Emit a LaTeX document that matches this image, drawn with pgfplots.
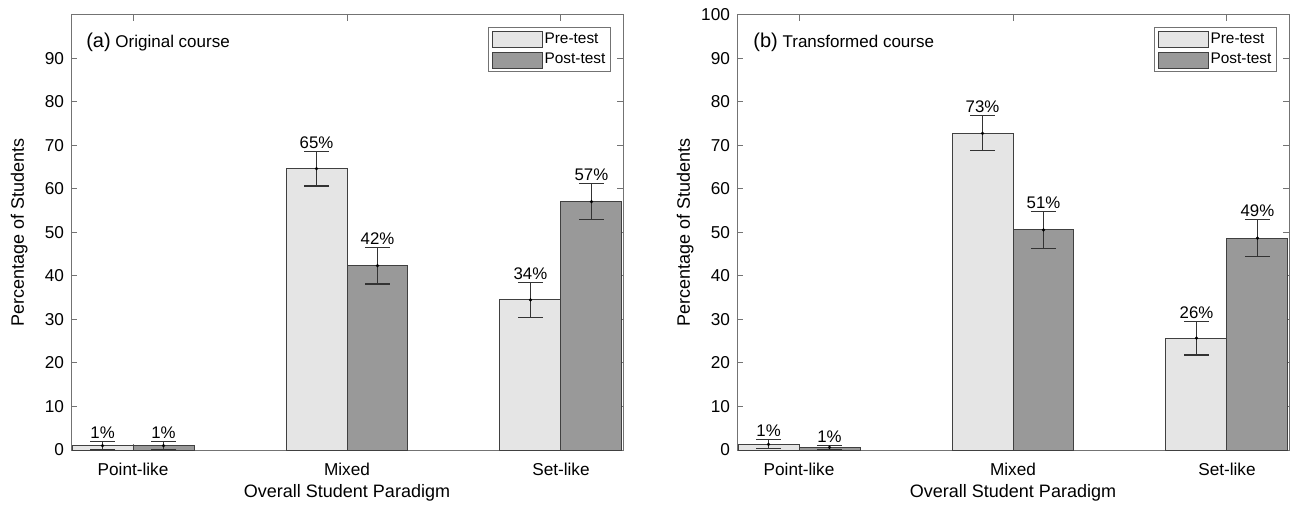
\documentclass[border=0pt]{standalone}
\usepackage{pgfplots}
\pgfplotsset{compat=1.18}
\usepackage{fontspec}
\setmainfont{Liberation Sans}
\definecolor{precol}{gray}{0.9}
\definecolor{postcol}{gray}{0.6}
\definecolor{axgray}{gray}{0.45}
\definecolor{edgecol}{gray}{0.25}
\definecolor{errcol}{gray}{0.2}

\pgfplotsset{
  panel/.style={
    anchor=south west, scale only axis, width=276pt, height=217.5pt,
    xmin=0.71, xmax=3.29, ymin=0, ymax=100,
    xtick={1,2,3}, xticklabels={Point-like,Mixed,Set-like},
    tick align=inside, major tick length=3pt,
    axis line style={axgray, line width=0.5pt},
    tick style={axgray, line width=0.5pt},
    tick label style={font=\fontsize{8.6}{10}\selectfont},
    xticklabel style={yshift=-3pt},
    label style={font=\fontsize{9}{11}\selectfont},
    /pgf/number format/assume math mode=true,
    xlabel={Overall Student Paradigm}, ylabel={Percentage of Students},
    xlabel style={at={(axis description cs:0.5,-0.099)}, anchor=center},
    ylabel style={at={(axis description cs:-0.094,0.5)}, anchor=center},
    clip=false,
    legend style={at={(axis description cs:0.978,0.972)}, anchor=north east,
      draw=axgray, line width=0.5pt, fill=white,
      font=\fontsize{7.7}{9}\selectfont,
      inner xsep=1.5pt, inner ysep=1.5pt, row sep=1.5pt,
      nodes={inner sep=1pt}},
    legend cell align=left,
  },
  barpre/.style={ybar, bar width=0.285, bar shift=0pt, fill=precol, draw=edgecol, line width=0.5pt,
    legend image code/.code={\draw[fill=precol, draw=edgecol, line width=0.5pt] (0pt,-4pt) rectangle (25pt,4pt);}},
  barpost/.style={ybar, bar width=0.285, bar shift=0pt, fill=postcol, draw=edgecol, line width=0.5pt,
    legend image code/.code={\draw[fill=postcol, draw=edgecol, line width=0.5pt] (0pt,-4pt) rectangle (25pt,4pt);}},
  errplot/.style={forget plot, only marks, mark=*, mark size=0.6pt, color=black,
    error bars/.cd, y dir=both, y explicit,
    error bar style={errcol, line width=0.55pt},
    error mark options={errcol, line width=0.55pt, mark size=6.25pt, rotate=90}},
  labplot/.style={forget plot, draw=none, mark=none, nodes near coords, point meta=explicit symbolic,
    nodes near coords style={font=\fontsize{8.4}{10}\selectfont, anchor=south, inner sep=1.2pt, text=black}},
}

\begin{document}
\begin{tikzpicture}
\useasboundingbox (0,0) rectangle (645.5pt,252pt);

% (a) Original course
\begin{axis}[panel, at={(35.5pt,27pt)}, ytick={0,10,...,90}]
\addplot[barpre] coordinates {(0.8575,1.0) (1.8575,64.7) (2.8575,34.5)};
\addlegendentry{Pre-test}
\addplot[barpost] coordinates {(1.1425,1.0) (2.1425,42.4) (3.1425,57.1)};
\addlegendentry{Post-test}
\addplot[errplot] coordinates {(0.8575,1.0) +- (0,0.9) (1.8575,64.7) +- (0,4.0) (2.8575,34.5) +- (0,4.05)
  (1.1425,1.0) +- (0,0.9) (2.1425,42.4) +- (0,4.25) (3.1425,57.1) +- (0,4.2)};
\addplot[labplot] coordinates {(0.8575,1.9) [1\%] (1.8575,68.7) [65\%] (2.8575,38.55) [34\%]
  (1.1425,1.9) [1\%] (2.1425,46.65) [42\%] (3.1425,61.3) [57\%]};
\node[anchor=west, inner sep=0pt, font=\fontsize{8.5}{10}\selectfont] at (axis description cs:0.027,0.938)
  {{\fontsize{10}{12}\selectfont (a)} Original course};
\end{axis}

% (b) Transformed course
\begin{axis}[panel, at={(368.5pt,27pt)}, ytick={0,10,...,100}]
\addplot[barpre] coordinates {(0.8575,1.3) (1.8575,72.8) (2.8575,25.7)};
\addlegendentry{Pre-test}
\addplot[barpost] coordinates {(1.1425,0.6) (2.1425,50.6) (3.1425,48.7)};
\addlegendentry{Post-test}
\addplot[errplot] coordinates {(0.8575,1.3) +- (0,1.05) (1.8575,72.8) +- (0,4.0) (2.8575,25.7) +- (0,3.85)
  (1.1425,0.6) +- (0,0.5) (2.1425,50.6) +- (0,4.3) (3.1425,48.7) +- (0,4.2)};
\addplot[labplot] coordinates {(0.8575,2.35) [1\%] (1.8575,76.8) [73\%] (2.8575,29.55) [26\%]
  (1.1425,1.1) [1\%] (2.1425,54.9) [51\%] (3.1425,52.9) [49\%]};
\node[anchor=west, inner sep=0pt, font=\fontsize{8.5}{10}\selectfont] at (axis description cs:0.029,0.938)
  {{\fontsize{10}{12}\selectfont (b)} Transformed course};
\end{axis}
\end{tikzpicture}
\end{document}
